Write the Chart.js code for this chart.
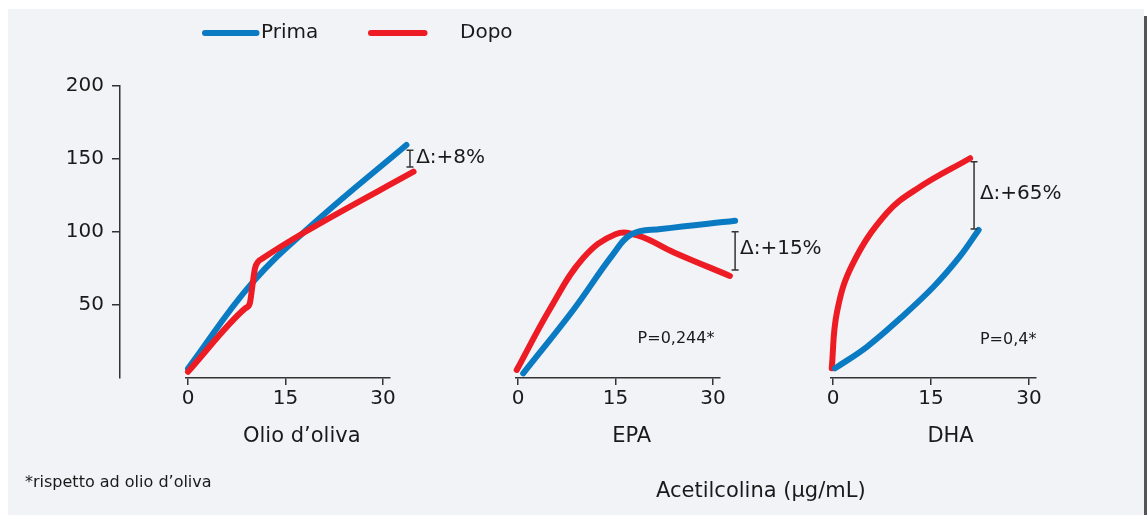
<!DOCTYPE html>
<html>
<head>
<meta charset="utf-8">
<script src="https://cdn.jsdelivr.net/npm/chart.js@4.4.0/dist/chart.umd.min.js"></script>
<style>
  body { margin: 0; width: 1147px; height: 515px; background: #fff; position: relative; overflow: hidden; font-family: "DejaVu Sans", Verdana, sans-serif; }
  #sfondo { position: absolute; left: 8px; top: 9px; width: 1136px; height: 506px; background: #f2f3f7; }
  #bordo { position: absolute; left: 1144px; top: 16px; width: 3px; height: 499px; background: #555; }
  canvas { position: absolute; left: 0; top: 0; }
  .testo { position: absolute; color: #1a1a1a; white-space: nowrap; line-height: 1; }
</style>
</head>
<body>
<div id="sfondo"></div>
<div id="bordo"></div>
<canvas id="assey" width="1147" height="515"></canvas>
<canvas id="olio" width="1147" height="515"></canvas>
<canvas id="epa" width="1147" height="515"></canvas>
<canvas id="dha" width="1147" height="515"></canvas>
<div class="testo" style="left:25px; top:474px; font-size:16px;">*rispetto ad olio d’oliva</div>
<div class="testo" style="left:656px; top:480px; font-size:21px;">Acetilcolina (μg/mL)</div>

<script>
// dati (x = dose acetilcolina, y = risposta)
const doseTicks = [0, 15, 30];
const rispostaTicks = [50, 100, 150, 200];
const serie = ["Prima", "Dopo"];
const pannelli = ["Olio d’oliva", "EPA", "DHA"];

const olioPrimaX = [0, 9.8, 19.5, 33.6];
const olioPrimaY = [6.5, 64.8, 106.5, 159.6];
const olioDopoX  = [0, 8.8, 9.5, 9.9, 10.3, 10.8, 11.5, 18, 34.7];
const olioDopoY  = [4.3, 47.7, 51, 63, 75, 79.7, 82, 100, 141.3];

const epaPrimaX = [0.8, 8.5, 14.5, 17.5, 22, 33.4];
const epaPrimaY = [3.2, 46.6, 84, 98.5, 102, 107.7];
const epaDopoX  = [-0.2, 5, 10, 15, 18.5, 24, 32.6];
const epaDopoY  = [5.5, 48, 82, 98.5, 97.5, 86, 69.9];

const dhaPrimaX = [0.3, 5.2, 10.3, 15.4, 19.4, 22.3];
const dhaPrimaY = [6.6, 21.4, 40.9, 62.5, 83.1, 101.4];
const dhaDopoX  = [-0.2, 0.6, 3, 8.2, 13, 21];
const dhaDopoY  = [6.6, 45, 78, 112.8, 130, 150.5];

const blu = "#0a7bc2";
const rosso = "#ed1c24";
const scuro = "#333";
const font = "DejaVu Sans";

const punti = (xs, ys) => xs.map((x, i) => ({ x: x, y: ys[i] }));

// area del grafico comune
const W = 1147, H = 515;
const TOP = 86, BOTTOM = 378, ALTEZZA_X = 40;

// disegna parentesi, delta, P e titolo del pannello
const note = {
  id: "note",
  afterDatasetsDraw(chart, args, opts) {
    const ctx = chart.ctx;
    const sx = chart.scales.x, sy = chart.scales.y;
    ctx.save();
    ctx.strokeStyle = scuro;
    ctx.lineWidth = 1.5;
    (opts.parentesi || []).forEach(p => {
      const x = sx.getPixelForValue(p.x);
      const y0 = sy.getPixelForValue(p.y0), y1 = sy.getPixelForValue(p.y1);
      ctx.beginPath();
      ctx.moveTo(x, y0); ctx.lineTo(x, y1);
      ctx.moveTo(x - 3.5, y0); ctx.lineTo(x + 3.5, y0);
      ctx.moveTo(x - 3.5, y1); ctx.lineTo(x + 3.5, y1);
      ctx.stroke();
    });
    ctx.fillStyle = "#1a1a1a";
    ctx.textBaseline = "middle";
    (opts.scritte || []).forEach(s => {
      ctx.font = s.size + "px '" + font + "'";
      ctx.textAlign = s.align || "left";
      ctx.fillText(s.text, sx.getPixelForValue(s.x), sy.getPixelForValue(s.y));
    });
    ctx.restore();
  }
};

// legenda disegnata a mano (righe + etichette)
const legenda = {
  id: "legenda",
  afterDraw(chart, args, opts) {
    const ctx = chart.ctx;
    ctx.save();
    ctx.lineCap = "round";
    ctx.lineWidth = 6;
    ctx.font = "20px '" + font + "'";
    ctx.textBaseline = "middle";
    ctx.fillStyle = "#1a1a1a";
    opts.voci.forEach(v => {
      const ds = chart.data.datasets.find(d => d.label === v.label);
      ctx.strokeStyle = ds.borderColor;
      ctx.beginPath();
      ctx.moveTo(v.x0, opts.y); ctx.lineTo(v.x1, opts.y);
      ctx.stroke();
      ctx.fillText(v.label, v.tx, opts.y);
    });
    ctx.restore();
  }
};

function serieDataset(label, data, colore, ordine, modo) {
  return {
    label: label, data: data, borderColor: colore, backgroundColor: colore,
    borderWidth: 6, borderCapStyle: "round", borderJoinStyle: "round",
    tension: 0.4, cubicInterpolationMode: modo || "default",
    pointRadius: 0, clip: false, order: ordine
  };
}

function pannello(id, zero, pxUnit, prima, dopo, ordinePrima, modoDopo, notePannello, extraPlugins, extraOpts) {
  const xMin = -0.3, xMax = 31;
  const left = zero + xMin * pxUnit, right = zero + xMax * pxUnit;
  return new Chart(document.getElementById(id), {
    type: "line",
    data: { datasets: [
      serieDataset(serie[0], prima, blu, ordinePrima),
      serieDataset(serie[1], dopo, rosso, 1 - ordinePrima, modoDopo)
    ] },
    options: {
      responsive: false, animation: false, events: [],
      layout: { padding: { left: left, right: W - right, top: TOP, bottom: H - BOTTOM - ALTEZZA_X } },
      scales: {
        x: {
          type: "linear", min: xMin, max: xMax,
          afterBuildTicks: s => { s.ticks = doseTicks.map(v => ({ value: v })); },
          afterFit: s => { s.height = ALTEZZA_X; },
          ticks: { font: { family: font, size: 20 }, color: "#1a1a1a", padding: 2, maxRotation: 0 },
          grid: { drawOnChartArea: false, drawTicks: true, tickLength: 7, color: scuro, lineWidth: 1.5 },
          border: { display: true, color: scuro, width: 1.5 }
        },
        y: { display: false, min: 0, max: 200 }
      },
      plugins: Object.assign({ legend: { display: false }, tooltip: { enabled: false }, note: notePannello }, extraOpts || {})
    },
    plugins: [note].concat(extraPlugins || [])
  });
}

// asse y condiviso
new Chart(document.getElementById("assey"), {
  type: "line",
  data: { datasets: [] },
  options: {
    responsive: false, animation: false, events: [],
    layout: { padding: { left: 60, right: W - 130, top: TOP, bottom: H - BOTTOM } },
    scales: {
      x: { type: "linear", display: false, min: 0, max: 1 },
      y: {
        min: 0, max: 200,
        afterBuildTicks: s => { s.ticks = rispostaTicks.map(v => ({ value: v })); },
        afterFit: s => { s.width = 60; },
        ticks: { font: { family: font, size: 20 }, color: "#1a1a1a", padding: 8 },
        grid: { drawOnChartArea: false, drawTicks: true, tickLength: 8, color: scuro, lineWidth: 1.5 },
        border: { display: true, color: scuro, width: 1.5 }
      }
    },
    plugins: { legend: { display: false }, tooltip: { enabled: false } }
  }
});

pannello("olio", 188, 6.5, punti(olioPrimaX, olioPrimaY), punti(olioDopoX, olioDopoY), 1, "monotone", {
  parentesi: [{ x: 34.15, y0: 156, y1: 144.5 }],
  scritte: [
    { text: "Δ:+8%", x: 35.1, y: 150.5, size: 20 },
    { text: pannelli[0], x: 17.5, y: -40, size: 21, align: "center" }
  ]
}, [legenda], {
  legenda: { y: 33, voci: [
    { label: serie[0], x0: 205, x1: 256.5, tx: 261 },
    { label: serie[1], x0: 371, x1: 424.5, tx: 460 }
  ] }
});

pannello("epa", 518, 6.5, punti(epaPrimaX, epaPrimaY), punti(epaDopoX, epaDopoY), 0, null, {
  parentesi: [{ x: 33.4, y0: 100.2, y1: 74 }],
  scritte: [
    { text: "Δ:+15%", x: 34.15, y: 88.8, size: 20 },
    { text: "P=0,244*", x: 18.4, y: 26.7, size: 16 },
    { text: pannelli[1], x: 17.5, y: -40, size: 21, align: "center" }
  ]
});

pannello("dha", 833, 6.53, punti(dhaPrimaX, dhaPrimaY), punti(dhaDopoX, dhaDopoY), 0, null, {
  parentesi: [{ x: 21.6, y0: 148.2, y1: 102 }],
  scritte: [
    { text: "Δ:+65%", x: 22.5, y: 126.5, size: 20 },
    { text: "P=0,4*", x: 22.5, y: 26, size: 16 },
    { text: pannelli[2], x: 18, y: -40, size: 21, align: "center" }
  ]
});
</script>
</body>
</html>
